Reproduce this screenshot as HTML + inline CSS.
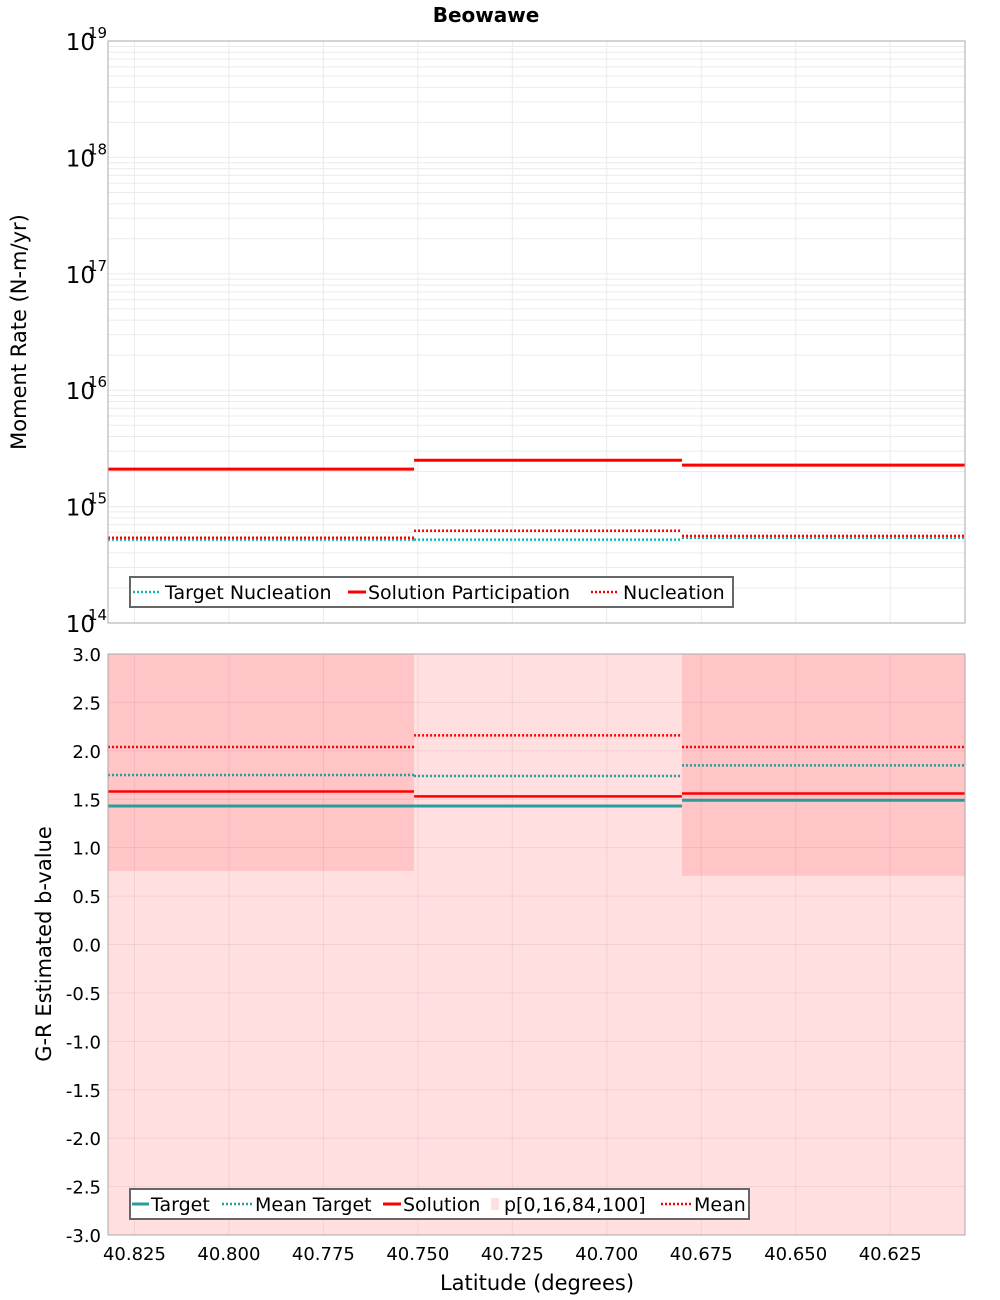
<!DOCTYPE html>
<html><head><meta charset="utf-8"><style>body{margin:0;background:#fff}svg{display:block;font-family:"DejaVu Sans","Liberation Sans",sans-serif}</style></head>
<body>
<svg id="c" width="1000" height="1300" xmlns="http://www.w3.org/2000/svg"></svg>
<script>
const binEdges=[40.832,40.751,40.6801,40.6052];
const xTicks=[40.825,40.800,40.775,40.750,40.725,40.700,40.675,40.650,40.625];
const targetNucl=[5.2e14,5.2e14,5.4e14];
const solutionPart=[2.1e15,2.5e15,2.27e15];
const nucleation=[5.4e14,6.2e14,5.6e14];
const bTarget=[1.43,1.43,1.49];
const bMeanTarget=[1.75,1.74,1.85];
const bSolution=[1.58,1.53,1.56];
const bMean=[2.04,2.16,2.04];
const bP0=[-3.5,-3.5,-3.5];
const bP16=[0.76,1.43,0.71];
const bP84=[3.5,1.43,3.5];
const bP100=[3.5,3.5,3.5];
const yTicksB=[3.0,2.5,2.0,1.5,1.0,0.5,0.0,-0.5,-1.0,-1.5,-2.0,-2.5,-3.0];

const NS='http://www.w3.org/2000/svg',svg=document.getElementById('c');
const L=108,R=965,T1=41,B1=623,T2=654,B2=1235;
const X=v=>L+(binEdges[0]-v)/(binEdges[0]-binEdges[3])*(R-L);
const Y1=v=>B1-(Math.log10(v)-14)/5*(B1-T1);
const Y2=v=>B2-(v+3)/6*(B2-T2);
function el(t,a,p){const e=document.createElementNS(NS,t);for(const k in a)e.setAttribute(k,a[k]);(p||svg).appendChild(e);return e;}
function txt(s,a,p){const e=el('text',a,p);e.textContent=s;return e;}
const defs=el('defs',{});
const c1=el('clipPath',{id:'c1'},defs);el('rect',{x:L,y:T1,width:R-L,height:B1-T1},c1);
const c2=el('clipPath',{id:'c2'},defs);el('rect',{x:L,y:T2,width:R-L,height:B2-T2},c2);
const ti=txt('Beowawe',{x:486,y:22,'font-size':20,'font-weight':'bold','text-anchor':'middle'});

const g1=el('g',{});
el('rect',{x:L,y:T1,width:R-L,height:B1-T1,fill:'#fff'},g1);
for(let d=14;d<19;d++)for(let m=1;m<10;m++){const y=Y1(m*Math.pow(10,d));el('line',{x1:L,x2:R,y1:y,y2:y,stroke:'#ebebeb','stroke-width':1},g1);}
xTicks.forEach(t=>{const x=X(t);el('line',{x1:x,x2:x,y1:T1,y2:B1,stroke:'#ebebeb'},g1);});
for(let d=14;d<=19;d++){const y=Y1(Math.pow(10,d));
 const tl=txt('10',{x:95,y:y+9,'font-size':23,'text-anchor':'end'},g1);
 txt(String(d),{x:88,y:y-3,'font-size':15},g1);}
function seg(g,arr,Y,color,w,dash,clip,name){const gg=el('g',{'clip-path':'url(#'+clip+')'},g);
 arr.forEach((v,i)=>{const ln=el('line',{x1:X(binEdges[i]),x2:X(binEdges[i+1]),y1:Y(v),y2:Y(v),stroke:color,'stroke-width':w,'stroke-dasharray':dash||'none'},gg);
 });}
seg(g1,targetNucl,Y1,'#14b4b4',2.5,'2,2','c1','target-nucleation');
seg(g1,solutionPart,Y1,'#f00',3,null,'c1','solution-participation');
seg(g1,nucleation,Y1,'#f00',2.5,'2,2','c1','nucleation');
el('rect',{x:L,y:T1,width:R-L,height:B1-T1,fill:'none',stroke:'#aaa'},g1);
const yt1=txt('Moment Rate (N-m/yr)',{transform:'translate(26,332) rotate(-90)','font-size':21,'text-anchor':'middle'},g1);

const lg1=el('g',{});
el('rect',{x:130,y:577,width:603,height:30,fill:'#fff',stroke:'#666','stroke-width':2},lg1);
[[133,160,165,'Target Nucleation','#14b4b4','2,2',2.5],[348,366,368,'Solution Participation','#f00',null,3],[591,619,623,'Nucleation','#f00','2,2',2.5]].forEach(e=>{
 const g=el('g',{},lg1);
 el('line',{x1:e[0],x2:e[1],y1:592,y2:592,stroke:e[4],'stroke-width':e[6],'stroke-dasharray':e[5]||'none'},g);
 txt(e[3],{x:e[2],y:599,'font-size':19},g);});
const g2=el('g',{});
const gb=el('g',{'clip-path':'url(#c2)'},g2);
bP0.forEach((v,i)=>{const r=el('rect',{x:X(binEdges[i]),y:Y2(bP100[i]),width:X(binEdges[i+1])-X(binEdges[i]),height:Y2(v)-Y2(bP100[i]),fill:'#ffdfe0'},gb);
 });
bP16.forEach((v,i)=>{const r=el('rect',{x:X(binEdges[i]),y:Y2(bP84[i]),width:X(binEdges[i+1])-X(binEdges[i]),height:Math.max(0,Y2(v)-Y2(bP84[i])),fill:'#ffc5c7'},gb);
 });
yTicksB.forEach(t=>{const y=Y2(t);el('line',{x1:L,x2:R,y1:y,y2:y,stroke:'rgba(0,0,0,0.06)'},g2);
 const tl=txt(t.toFixed(1),{x:101,y:y+7,'font-size':18,'text-anchor':'end'},g2);});
xTicks.forEach(t=>{const x=X(t);el('line',{x1:x,x2:x,y1:T2,y2:B2,stroke:'rgba(0,0,0,0.06)'},g2);
 const tl=txt(t.toFixed(3),{x:x,y:1260,'font-size':18,'text-anchor':'middle'},g2);});
seg(g2,bTarget,Y2,'#2a9c9c',3,null,'c2','target');
seg(g2,bMeanTarget,Y2,'#2a9c9c',2.5,'2,2','c2','mean-target');
seg(g2,bSolution,Y2,'#f00',2.5,null,'c2','solution');
seg(g2,bMean,Y2,'#f00',2.5,'2,2','c2','mean');
el('rect',{x:L,y:T2,width:R-L,height:B2-T2,fill:'none',stroke:'#aaa'},g2);
const yt2=txt('G-R Estimated b-value',{transform:'translate(51,944) rotate(-90)','font-size':21,'text-anchor':'middle'},g2);

const xt=txt('Latitude (degrees)',{x:537,y:1290,'font-size':21,'text-anchor':'middle'},g2);

const lg2=el('g',{});
el('rect',{x:130,y:1189,width:619,height:30,fill:'#fff',stroke:'#666','stroke-width':2},lg2);
[[132,149,151,'Target','#2a9c9c',null,3,0],[222,252,255,'Mean Target','#2a9c9c','2,2',2.5,0],[383,401,403,'Solution','#f00',null,3,0],[491,499,504,'p[0,16,84,100]','#ffdfe0',null,0,1],[661,691,694,'Mean','#f00','2,2',2.5,0]].forEach(e=>{
 const g=el('g',{},lg2);
 if(e[7])el('rect',{x:e[0],y:1198,width:e[1]-e[0],height:12,fill:'#ffdfe0'},g);
 else el('line',{x1:e[0],x2:e[1],y1:1204,y2:1204,stroke:e[4],'stroke-width':e[6],'stroke-dasharray':e[5]||'none'},g);
 txt(e[3],{x:e[2],y:1211,'font-size':19},g);});
</script>
</body></html>
